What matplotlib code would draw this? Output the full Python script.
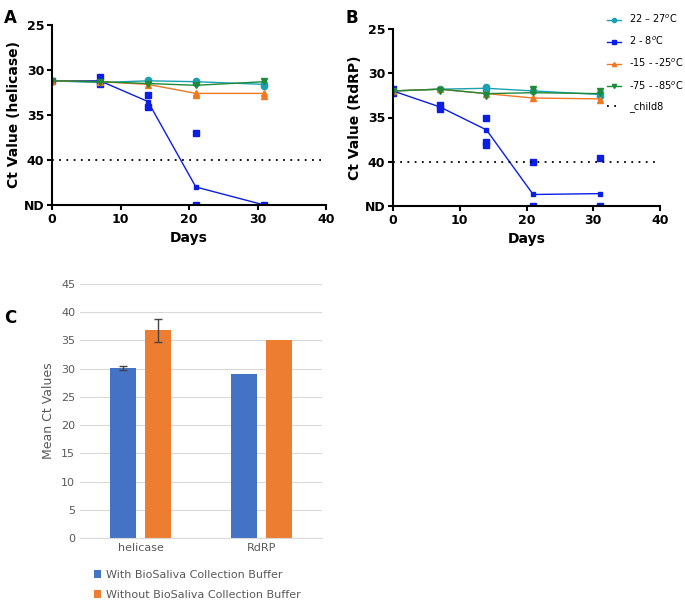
import matplotlib.pyplot as plt
import numpy as np

days = [0, 7, 14, 21, 31]
labels = ['22 – 27$^{o}$C', '2 - 8$^{o}$C', '-15 - -25$^{o}$C', '-75 - -85$^{o}$C']
colors = ['#1aa0b0', '#0a1ee6', '#f07820', '#1f8a3a']
markers = ['o', 's', '^', 'v']

# panel A (helicase), ND plotted as 45
a_means = [[31.2, 31.4, 31.2, 31.3, 31.6],
           [31.2, 31.2, 33.5, 43.0, 45.0],
           [31.2, 31.3, 31.6, 32.6, 32.6],
           [31.2, 31.3, 31.5, 31.7, 31.3]]
a_pts = [[(0, 31.2), (7, 31.4), (14, 31.1), (21, 31.2), (21, 31.4), (31, 31.5), (31, 31.8)],
         [(0, 31.2), (7, 30.8), (7, 31.5), (14, 32.8), (14, 34.1), (21, 37.0), (21, 45), (31, 45)],
         [(0, 31.2), (7, 31.3), (14, 31.7), (21, 32.5), (21, 32.8), (31, 32.5), (31, 32.9)],
         [(0, 31.2), (7, 31.3), (14, 31.5), (21, 31.7), (31, 31.2)]]

# panel B (RdRP)
b_means = [[32.0, 31.8, 31.7, 32.0, 32.4],
           [32.0, 33.8, 36.4, 43.7, 43.6],
           [32.0, 31.8, 32.3, 32.8, 32.9],
           [32.0, 31.8, 32.3, 32.2, 32.3]]
b_pts = [[(0, 32.0), (7, 31.8), (14, 31.6), (14, 31.9), (21, 32.0), (31, 32.2), (31, 32.6)],
         [(0, 31.8), (0, 32.2), (7, 33.6), (7, 34.0), (14, 35.0), (14, 37.8), (14, 38.1), (21, 40.0), (21, 45), (31, 39.6), (31, 45)],
         [(0, 32.0), (7, 31.8), (14, 32.3), (21, 32.8), (31, 33.0)],
         [(0, 32.0), (7, 32.0), (14, 32.6), (21, 31.8), (31, 32.0)]]

genes = ['helicase', 'RdRP']
with_buf = [30.1, 29.0]
with_err = [0.4, 0]
without_buf = [36.8, 35.0]
without_err = [2.0, 0]

fig = plt.figure(figsize=(6.85, 6.07), dpi=100)
W, H = 685, 607

def px_axes(l, t, r, b):
    return fig.add_axes([l / W, 1 - b / H, (r - l) / W, (b - t) / H])

def line_panel(ax, means, pts, ylab, letter, lx, ly, legend=False):
    for m, p, c, mk, lab in zip(means, pts, colors, markers, labels):
        ax.plot(days, m, color=c, lw=1, marker=mk, ms=3, label=lab)
        xs, ys = zip(*p)
        ax.plot(xs, ys, ls='none', marker=mk, color=c, ms=4.5)
    ax.axhline(40, color='black', ls=(0, (1, 3)), lw=1.3)
    ax.set_xlim(0, 40)
    ax.set_ylim(45, 25)
    ax.set_yticks([25, 30, 35, 40, 45])
    ax.set_yticklabels(['25', '30', '35', '40', 'ND'])
    ax.set_xticks([0, 10, 20, 30, 40])
    for s in ['top', 'right']:
        ax.spines[s].set_visible(False)
    for s in ['left', 'bottom']:
        ax.spines[s].set_linewidth(1.5)
    ax.tick_params(width=1.5, labelsize=9, pad=2)
    for t in ax.get_xticklabels() + ax.get_yticklabels():
        t.set_fontweight('bold')
    ax.set_xlabel('Days', fontweight='bold', fontsize=10)
    ax.set_ylabel(ylab, fontweight='bold', fontsize=10, labelpad=2)
    fig.text(lx / W, 1 - ly / H, letter, fontsize=12, fontweight='bold', va='center')
    if legend:
        fig.legend(loc='upper left', bbox_to_anchor=(598 / W, 1 - 4 / H), frameon=False, fontsize=7,
                   handlelength=1.5, labelspacing=1.0, handles=ax.lines[0::2])

axA = px_axes(52, 25, 326, 205)
line_panel(axA, a_means, a_pts, 'Ct Value (helicase)', 'A', 4, 18)
axB = px_axes(393, 29, 660, 206)
line_panel(axB, b_means, b_pts, 'Ct Value (RdRP)', 'B', 345, 18, legend=True)

axC = px_axes(80, 284, 322, 538)
x = np.arange(len(genes))
axC.bar(x - 0.145, with_buf, 0.22, color='#4472c4', label='With BioSaliva Collection Buffer',
        yerr=[e if e else np.nan for e in with_err], capsize=3, error_kw=dict(lw=1, ecolor='#444444'))
axC.bar(x + 0.145, without_buf, 0.22, color='#ed7d31', label='Without BioSaliva Collection Buffer',
        yerr=[e if e else np.nan for e in without_err], capsize=3, error_kw=dict(lw=1, ecolor='#444444'))
axC.set_xlim(-0.5, 1.5)
axC.set_ylim(0, 45)
axC.set_yticks(range(0, 46, 5))
axC.set_xticks(x)
axC.set_xticklabels(genes)
axC.yaxis.grid(True, color='#d9d9d9')
axC.set_axisbelow(True)
for s in ['top', 'right', 'left']:
    axC.spines[s].set_visible(False)
axC.spines['bottom'].set_color('#d9d9d9')
axC.tick_params(length=0, colors='#595959', labelsize=8)
axC.set_ylabel('Mean Ct Values', color='#595959', fontsize=9)
fig.legend(handles=axC.patches[::2][:0] or None, loc='upper left') if False else None
axC.legend(loc='upper left', bbox_to_anchor=(88 / W, 1 - 564 / H), bbox_transform=fig.transFigure,
           frameon=False, fontsize=8, handlelength=0.7, handleheight=0.7, labelspacing=0.9,
           labelcolor='#595959', borderpad=0, handletextpad=0.4)
fig.text(4 / W, 1 - 318 / H, 'C', fontsize=12, fontweight='bold', va='center')

fig.savefig('out.png', dpi=100)
